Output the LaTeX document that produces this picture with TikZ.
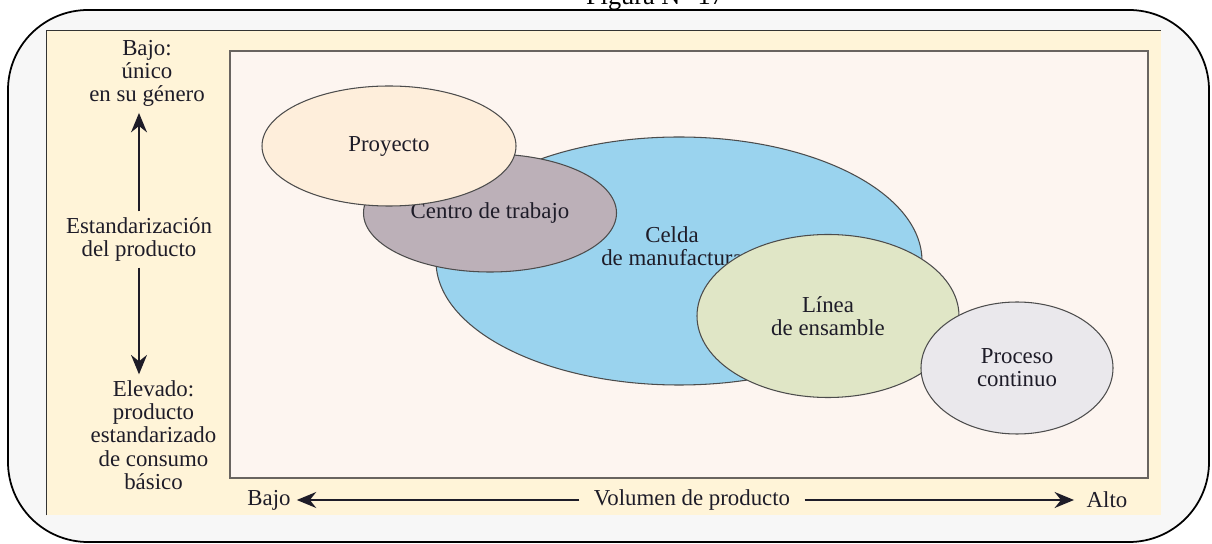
\documentclass[tikz,border=0pt]{standalone}
\usepackage{fontspec}
\setmainfont{Liberation Serif}
\usetikzlibrary{arrows.meta,positioning,shapes.geometric}
\definecolor{marcofondo}{RGB}{247,247,247}
\definecolor{panelfondo}{RGB}{255,244,216}
\definecolor{areafondo}{RGB}{253,245,240}
\definecolor{borde}{RGB}{105,100,96}
\definecolor{texto}{RGB}{30,28,40}
\definecolor{proycol}{RGB}{254,238,219}
\definecolor{centrocol}{RGB}{188,176,184}
\definecolor{celdacol}{RGB}{154,211,238}
\definecolor{lineacol}{RGB}{224,230,198}
\definecolor{procesocol}{RGB}{234,232,236}

\begin{document}
\begin{tikzpicture}[
  every node/.style={font=\fontsize{13}{13.2}\selectfont, text=texto},
  zona/.style={ellipse, draw=black!70, line width=0.6pt, inner sep=0pt, align=center},
  lbl/.style={align=center},
  arr/.style={-{Stealth[length=11pt, width=9pt]}, line width=1.6pt, draw=texto},
]
\useasboundingbox (0,0) rectangle (24.24,10.88);
% marco y fondos
\node[draw=black, line width=1pt, fill=marcofondo, rounded corners=1.6cm, minimum width=24.02cm, minimum height=10.64cm, inner sep=0pt] (marco) at (12.17,5.36) {};
\node[font=\fontsize{15}{15}\selectfont, text=black, anchor=base] (titulo) at (13.1,10.78) {Figura N° 17};
\node[fill=panelfondo, minimum width=22.28cm, minimum height=9.68cm, inner sep=0pt] (panel) at (12.08,5.42) {};
\draw[black!80, line width=0.8pt] (panel.south west) -- (panel.north west) -- (panel.north east);
\node[draw=borde, line width=0.9pt, fill=areafondo, minimum width=18.36cm, minimum height=8.54cm, inner sep=0pt] (area) at (13.78,5.59) {};
% tipos de proceso
\node[zona, fill=celdacol, minimum width=9.72cm, minimum height=4.96cm] (celda) at (13.58,5.66) {};
\node[lbl] (celdatxt) at (13.44,5.96) {Celda\\de manufactura};
\node[zona, fill=centrocol, minimum width=5.06cm, minimum height=2.36cm] (centro) at (9.8,6.62) {Centro de trabajo};
\node[zona, fill=proycol, minimum width=5.08cm, minimum height=2.4cm] (proyecto) at (7.78,7.96) {Proyecto};
\node[zona, fill=lineacol, minimum width=5.24cm, minimum height=3.26cm] (linea) at (16.56,4.56) {Línea\\de ensamble};
\node[zona, fill=procesocol, minimum width=3.84cm, minimum height=2.64cm] (proceso) at (20.34,3.52) {Proceso\\continuo};
% eje vertical
\node[lbl] (bajoV) at (2.94,9.41) {Bajo:\\único\\en su género};
\node[lbl] (estand) at (2.78,6.09) {Estandarización\\del producto};
\node[lbl] (elevado) at (3.07,2.18) {Elevado:\\producto\\estandarizado\\de consumo\\básico};
\draw[arr] (estand) -- (estand |- bajoV.south);
\draw[arr] (estand) -- (estand |- elevado.north);
% eje horizontal
\node (bajoH) at (5.38,0.88) {Bajo};
\node[inner xsep=8pt] (volumen) at (13.84,0.88) {Volumen de producto};
\node[inner xsep=7pt] (alto) at (22.14,0.88) {Alto};
\draw[arr] (volumen) -- (bajoH);
\draw[arr] (volumen) -- (alto);
\end{tikzpicture}
\end{document}
